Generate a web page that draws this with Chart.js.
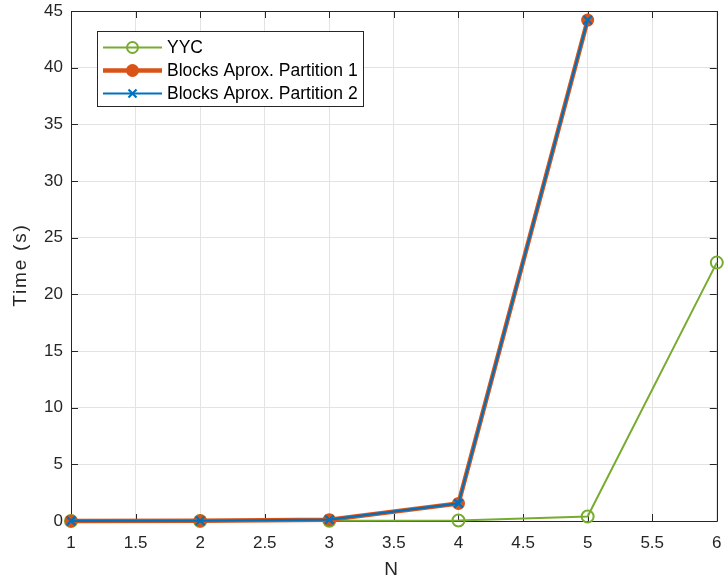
<!DOCTYPE html>
<html>
<head>
<meta charset="utf-8">
<script src="https://cdn.jsdelivr.net/npm/chart.js@4"></script>
<style>
  html, body { margin: 0; padding: 0; background: #fff; }
  #wrap { width: 725px; height: 584px; }
</style>
</head>
<body>
<div id="wrap"><canvas id="c" width="725" height="584"></canvas></div>
<script>
// Problem size N and measured run times (seconds)
const nValues = [1, 2, 3, 4, 5, 6];
const yycTimes = [0.0, 0.0, 0.02, 0.05, 0.4, 22.8];
const partition1Times = [0.01, 0.02, 0.12, 1.55, 44.2];
const partition2Times = [0.01, 0.02, 0.12, 1.55, 44.2];
const xTickValues = [1, 1.5, 2, 2.5, 3, 3.5, 4, 4.5, 5, 5.5, 6];
const yTickValues = [0, 5, 10, 15, 20, 25, 30, 35, 40, 45];
const seriesNames = ['YYC', 'Blocks Aprox. Partition 1', 'Blocks Aprox. Partition 2'];
const xTitle = 'N';
const yTitle = 'Time (s)';

const GREEN = '#77AC30', ORANGE = '#D95319', BLUE = '#0072BD', AXIS = '#262626';
const FONT = "'Liberation Sans', Arial, Helvetica, sans-serif";

const toPoints = (ys) => ys.map((y, i) => ({ x: nValues[i], y }));

// keep the plot box exactly where the layout padding puts it
const noScalePadding = (s) => {
  s.paddingLeft = 0; s.paddingRight = 0; s.paddingTop = 0; s.paddingBottom = 0;
};

// Box around the axes with inward tick marks on all four sides
const boxPlugin = {
  id: 'box',
  beforeDatasetsDraw(chart) {
    const { ctx, chartArea: a, scales } = chart;
    const len = 7;
    ctx.save();
    ctx.strokeStyle = AXIS;
    ctx.lineWidth = 1;
    ctx.beginPath();
    xTickValues.forEach(v => {
      const px = Math.round(scales.x.getPixelForValue(v)) + 0.5;
      ctx.moveTo(px, a.bottom); ctx.lineTo(px, a.bottom - len);
      ctx.moveTo(px, a.top); ctx.lineTo(px, a.top + len);
    });
    yTickValues.forEach(v => {
      const py = Math.round(scales.y.getPixelForValue(v)) + 0.5;
      ctx.moveTo(a.left, py); ctx.lineTo(a.left + len, py);
      ctx.moveTo(a.right, py); ctx.lineTo(a.right - len, py);
    });
    ctx.stroke();
    ctx.beginPath();
    ctx.rect(Math.round(a.left) + 0.5, Math.round(a.top) + 0.5,
             Math.round(a.right - a.left), Math.round(a.bottom - a.top));
    ctx.stroke();

    // axis titles
    ctx.fillStyle = AXIS;
    ctx.font = '19px ' + FONT;
    ctx.textAlign = 'center';
    ctx.textBaseline = 'middle';
    ctx.fillText(xTitle, 391, 570);
    ctx.save();
    ctx.translate(21, 265);
    ctx.rotate(-Math.PI / 2);
    ctx.letterSpacing = '1.8px';
    ctx.fillText(yTitle, 0, 0);
    ctx.restore();
    ctx.restore();
  }
};

// Legend box inside the upper-left corner of the axes
const legendBoxPlugin = {
  id: 'legendBox',
  afterDraw(chart) {
    const { ctx } = chart;
    const x0 = 97.5, y0 = 31.5, w = 266, h = 75;
    ctx.save();
    ctx.fillStyle = '#fff';
    ctx.fillRect(x0, y0, w, h);
    ctx.strokeStyle = AXIS;
    ctx.lineWidth = 1;
    ctx.strokeRect(x0, y0, w, h);
    const rows = [47.5, 70.5, 93.5];
    const styles = [
      { color: GREEN, lw: 2, marker: 'openCircle' },
      { color: ORANGE, lw: 4.5, marker: 'dot' },
      { color: BLUE, lw: 2, marker: 'cross' }
    ];
    ctx.font = '17.5px ' + FONT;
    ctx.textBaseline = 'middle';
    rows.forEach((ry, i) => {
      const s = styles[i];
      ctx.strokeStyle = s.color;
      ctx.lineWidth = s.lw;
      ctx.beginPath();
      ctx.moveTo(103, ry); ctx.lineTo(162, ry);
      ctx.stroke();
      const cx = 132.5;
      if (s.marker === 'openCircle') {
        ctx.lineWidth = 2;
        ctx.beginPath(); ctx.arc(cx, ry, 5.5, 0, Math.PI * 2); ctx.stroke();
      } else if (s.marker === 'dot') {
        ctx.fillStyle = s.color;
        ctx.beginPath(); ctx.arc(cx, ry, 6.5, 0, Math.PI * 2); ctx.fill();
      } else {
        ctx.lineWidth = 2.2;
        ctx.beginPath();
        ctx.moveTo(cx - 4, ry - 4); ctx.lineTo(cx + 4, ry + 4);
        ctx.moveTo(cx + 4, ry - 4); ctx.lineTo(cx - 4, ry + 4);
        ctx.stroke();
      }
      ctx.fillStyle = '#000';
      ctx.fillText(seriesNames[i], 167, ry + 1);
    });
    ctx.restore();
  }
};

new Chart(document.getElementById('c'), {
  type: 'line',
  data: {
    datasets: [
      {
        label: seriesNames[0],
        data: toPoints(yycTimes),
        borderColor: GREEN,
        borderWidth: 2,
        pointStyle: 'circle',
        pointRadius: 6,
        pointBorderWidth: 2,
        pointBorderColor: GREEN,
        pointBackgroundColor: 'rgba(0,0,0,0)',
        order: 3,
        clip: false
      },
      {
        label: seriesNames[1],
        data: toPoints(partition1Times),
        borderColor: ORANGE,
        borderWidth: 4.5,
        pointStyle: 'circle',
        pointRadius: 6.5,
        pointBorderWidth: 0,
        pointBackgroundColor: ORANGE,
        order: 2,
        clip: false
      },
      {
        label: seriesNames[2],
        data: toPoints(partition2Times),
        borderColor: BLUE,
        borderWidth: 2.2,
        pointStyle: 'crossRot',
        pointRadius: 6,
        pointBorderWidth: 2.2,
        pointBorderColor: BLUE,
        order: 1,
        clip: false
      }
    ]
  },
  options: {
    responsive: false,
    animation: false,
    events: [],
    layout: { padding: { left: 0, right: 5, top: 11, bottom: 0 } },
    elements: { line: { tension: 0 } },
    plugins: { legend: { display: false }, tooltip: { enabled: false } },
    scales: {
      x: {
        type: 'linear',
        min: 1, max: 6,
        afterBuildTicks: (s) => { s.ticks = xTickValues.map(v => ({ value: v })); },
        afterFit: (s) => { s.height = 63; noScalePadding(s); },
        ticks: {
          color: AXIS,
          font: { family: FONT, size: 17 },
          padding: 12,
          maxRotation: 0,
          autoSkip: false,
          callback: (v) => String(v)
        },
        grid: { color: '#e3e3e3', drawTicks: false, lineWidth: 1 },
        border: { display: false }
      },
      y: {
        type: 'linear',
        min: 0, max: 45,
        afterBuildTicks: (s) => { s.ticks = yTickValues.map(v => ({ value: v })); },
        afterFit: (s) => { s.width = 71; noScalePadding(s); },
        ticks: {
          color: AXIS,
          font: { family: FONT, size: 17 },
          padding: 8,
          callback: (v) => String(v)
        },
        grid: { color: '#e3e3e3', drawTicks: false, lineWidth: 1 },
        border: { display: false }
      }
    }
  },
  plugins: [boxPlugin, legendBoxPlugin]
});
</script>
</body>
</html>
